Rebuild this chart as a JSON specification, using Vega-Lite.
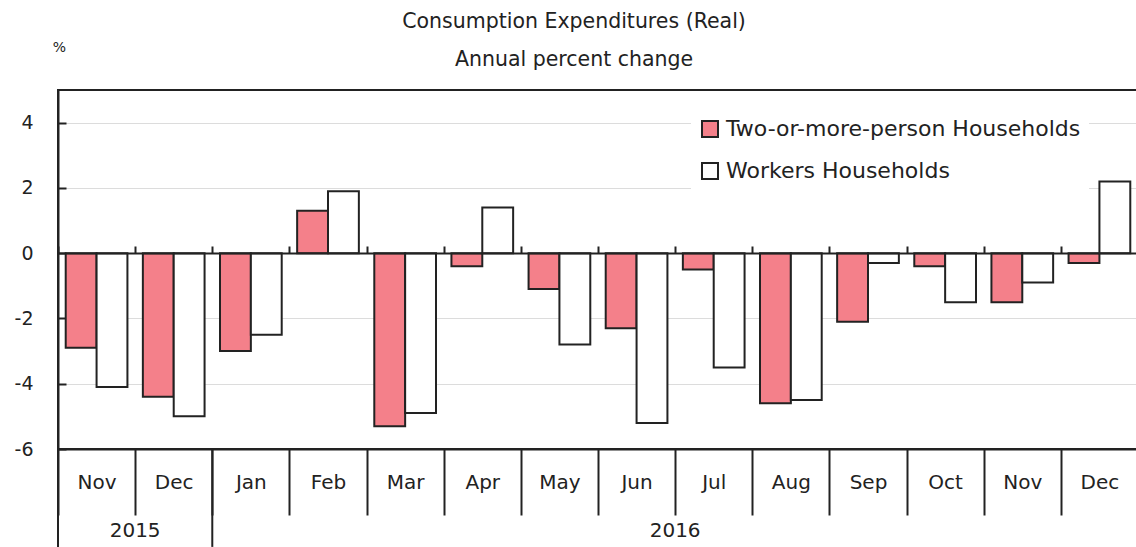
{
  "$schema": "https://vega.github.io/schema/vega-lite/v6.json",
  "width": 1080,
  "height": 359,
  "autosize": "none",
  "padding": {"left": 58, "top": 90, "right": 0, "bottom": 98},
  "background": "white",
  "config": {
    "font": "DejaVu Sans",
    "view": {"stroke": "#222222", "strokeWidth": 2}
  },
  "title": {
    "text": "Consumption Expenditures (Real)",
    "subtitle": "Annual percent change",
    "fontSize": 20.5,
    "subtitleFontSize": 20.5,
    "fontWeight": "normal",
    "color": "#222222",
    "subtitleColor": "#222222",
    "anchor": "middle",
    "dx": -24,
    "dy": 50,
    "offset": 20,
    "subtitlePadding": 17
  },
  "data": {
    "values": [
      {"key": "Nov 2015", "series": "Two-or-more-person Households", "value": -2.9},
      {"key": "Nov 2015", "series": "Workers Households", "value": -4.1},
      {"key": "Dec 2015", "series": "Two-or-more-person Households", "value": -4.4},
      {"key": "Dec 2015", "series": "Workers Households", "value": -5.0},
      {"key": "Jan 2016", "series": "Two-or-more-person Households", "value": -3.0},
      {"key": "Jan 2016", "series": "Workers Households", "value": -2.5},
      {"key": "Feb 2016", "series": "Two-or-more-person Households", "value": 1.3},
      {"key": "Feb 2016", "series": "Workers Households", "value": 1.9},
      {"key": "Mar 2016", "series": "Two-or-more-person Households", "value": -5.3},
      {"key": "Mar 2016", "series": "Workers Households", "value": -4.9},
      {"key": "Apr 2016", "series": "Two-or-more-person Households", "value": -0.4},
      {"key": "Apr 2016", "series": "Workers Households", "value": 1.4},
      {"key": "May 2016", "series": "Two-or-more-person Households", "value": -1.1},
      {"key": "May 2016", "series": "Workers Households", "value": -2.8},
      {"key": "Jun 2016", "series": "Two-or-more-person Households", "value": -2.3},
      {"key": "Jun 2016", "series": "Workers Households", "value": -5.2},
      {"key": "Jul 2016", "series": "Two-or-more-person Households", "value": -0.5},
      {"key": "Jul 2016", "series": "Workers Households", "value": -3.5},
      {"key": "Aug 2016", "series": "Two-or-more-person Households", "value": -4.6},
      {"key": "Aug 2016", "series": "Workers Households", "value": -4.5},
      {"key": "Sep 2016", "series": "Two-or-more-person Households", "value": -2.1},
      {"key": "Sep 2016", "series": "Workers Households", "value": -0.3},
      {"key": "Oct 2016", "series": "Two-or-more-person Households", "value": -0.4},
      {"key": "Oct 2016", "series": "Workers Households", "value": -1.5},
      {"key": "Nov 2016", "series": "Two-or-more-person Households", "value": -1.5},
      {"key": "Nov 2016", "series": "Workers Households", "value": -0.9},
      {"key": "Dec 2016", "series": "Two-or-more-person Households", "value": -0.3},
      {"key": "Dec 2016", "series": "Workers Households", "value": 2.2}
    ]
  },
  "resolve": {"axis": {"x": "independent"}},
  "layer": [
    {
      "mark": {"type": "bar", "stroke": "#222222", "strokeWidth": 2},
      "encoding": {
        "x": {
          "field": "key",
          "type": "ordinal",
          "sort": null,
          "scale": {
            "domain": ["Nov 2015", "Dec 2015", "Jan 2016", "Feb 2016", "Mar 2016", "Apr 2016", "May 2016", "Jun 2016", "Jul 2016", "Aug 2016", "Sep 2016", "Oct 2016", "Nov 2016", "Dec 2016"],
            "paddingInner": 0,
            "paddingOuter": 0
          },
          "axis": {
            "orient": "bottom",
            "title": null,
            "labelExpr": "datum.value ? split(datum.value, ' ')[0] : ''",
            "tickBand": "extent",
            "tickSize": 66,
            "tickWidth": 2,
            "tickColor": "#222222",
            "domainColor": "#222222",
            "domainWidth": 2,
            "labelFontSize": 20,
            "labelColor": "#222222",
            "labelAngle": 0,
            "labelPadding": -33,
            "labelBaseline": "middle"
          }
        },
        "xOffset": {
          "field": "series",
          "sort": ["Two-or-more-person Households", "Workers Households"],
          "scale": {"paddingInner": 0, "paddingOuter": 0.25}
        },
        "y": {
          "field": "value",
          "type": "quantitative",
          "scale": {"domain": [-6, 5], "nice": false, "zero": false},
          "axis": {
            "title": "%",
            "titleAngle": 0,
            "titleX": 1,
            "titleY": -43,
            "titleAlign": "center",
            "titleBaseline": "middle",
            "titleFontSize": 14,
            "titleFontWeight": "normal",
            "titleColor": "#222222",
            "values": [-6, -4, -2, 0, 2, 4],
            "labelExpr": "'' + datum.value",
            "tickSize": -8,
            "tickWidth": 2,
            "tickColor": "#222222",
            "domainColor": "#222222",
            "domainWidth": 2,
            "labelFontSize": 19,
            "labelColor": "#222222",
            "labelPadding": 33,
            "grid": true,
            "gridColor": "#dcdcdc",
            "gridWidth": 1
          }
        },
        "fill": {
          "field": "series",
          "type": "nominal",
          "scale": {"domain": ["Two-or-more-person Households", "Workers Households"], "range": ["#F4808A", "#ffffff"]},
          "legend": {
            "title": null,
            "orient": "none",
            "legendX": 633,
            "legendY": 20,
            "padding": 8,
            "fillColor": "white",
            "symbolType": "square",
            "symbolSize": 256,
            "symbolStrokeColor": "#222222",
            "symbolStrokeWidth": 2,
            "symbolOpacity": 1,
            "labelFontSize": 22,
            "labelColor": "#222222",
            "labelOffset": 5,
            "labelLimit": 500,
            "rowPadding": 18
          }
        }
      }
    },
    {
      "data": {"values": [{"key": "Dec 2015", "year": "2015"}, {"key": "Jul 2016", "year": "2016"}]},
      "mark": {"type": "text", "fontSize": 20, "color": "#222222", "baseline": "middle", "align": "center"},
      "encoding": {
        "x": {
          "field": "key",
          "type": "ordinal",
          "sort": null,
          "bandPosition": 0,
          "axis": {
            "orient": "top",
            "offset": -163,
            "title": null,
            "tickBand": "extent",
            "tickSize": 7,
            "tickWidth": 2,
            "tickColor": "#222222",
            "labels": false,
            "domainColor": "#222222",
            "domainWidth": 2,
            "zindex": 1
          }
        },
        "y": {"datum": -8.5},
        "text": {"field": "year"}
      }
    },
    {
      "data": {"values": [{"key": "Nov 2015"}, {"key": "Jan 2016"}]},
      "mark": {"type": "rule", "color": "#222222", "strokeWidth": 2},
      "encoding": {
        "x": {"field": "key", "type": "ordinal", "sort": null, "bandPosition": 0, "axis": null},
        "y": {"datum": -6},
        "y2": {"datum": -9}
      }
    }
  ]
}
